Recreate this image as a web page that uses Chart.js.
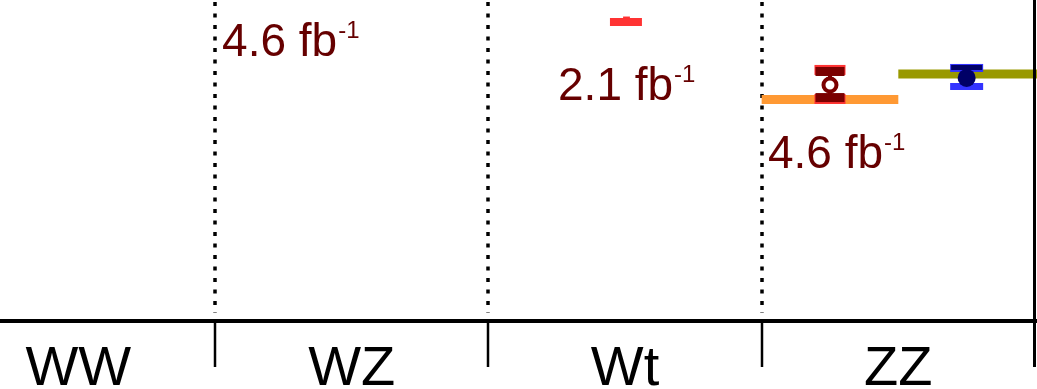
<!DOCTYPE html>
<html>
<head>
<meta charset="utf-8">
<script src="https://cdn.jsdelivr.net/npm/chart.js@4"></script>
<style>
  html, body { margin: 0; padding: 0; background: #fff; }
  canvas { display: block; }
</style>
</head>
<body>
<canvas id="xsecChart" width="1037" height="389"></canvas>
<script>
// Process categories along the x axis (one unit each)
const categories = ['WW', 'WZ', 'Wt', 'ZZ'];
const categoryCenters = [0.5, 1.5, 2.5, 3.5];
const boundaries = [1, 2, 3];

// ZZ measurements (pb): 7 TeV open marker, 8 TeV filled marker
const zzPointX = [3.25, 3.75];
const zzPointY = [6.58, 7.21];
const zzTotHigh = [8.01, 8.22];
const zzTotLow = [5.48, 6.45];
const zzStatHigh = [7.85, 8.27];
const zzStatLow = [5.58, null];

// Theory prediction bands for ZZ
const bandStart = [3.0, 3.5];
const bandEnd = [3.5, 4.1];
const bandValue = [5.44, 7.60];

// Wt measurement (only the lower edge is in view)
const wtX = [2.445, 2.562];
const wtValue = 15.0;
const wtBumpX = [2.493, 2.518];
const wtBumpValue = 15.9;

// Luminosity labels
const lumiText = ['4.6', '2.1', '4.6'];
const lumiX = [1.026, 2.255, 3.023];
const lumiY = [9.61, 5.41, 2.22];

const FONT = "'Liberation Sans', Arial, Helvetica, sans-serif";

// Function to build a horizontal segment dataset
function segment(x0, x1, y, color, width) {
  return {
    type: 'line',
    data: [{ x: x0, y: y }, { x: x1, y: y }],
    borderColor: color,
    borderWidth: width,
    borderCapStyle: 'butt',
    pointRadius: 0,
    fill: false
  };
}

// Function to draw one cap rectangle centred on a value
function drawCap(ctx, xs, ys, x, value, w, h, color) {
  if (value === null) return;
  const px = xs.getPixelForValue(x);
  const py = ys.getPixelForValue(value);
  ctx.fillStyle = color;
  ctx.fillRect(px - w / 2, py - h / 2, w, h);
}

// Plugin: error bars drawn just before their marker dataset
const errorBars = {
  id: 'errorBars',
  beforeDatasetDraw(chart, args) {
    const ds = chart.data.datasets[args.index];
    if (!ds.errors) return;
    const { ctx } = chart;
    const xs = chart.scales.x;
    const ys = chart.scales.y;
    const i = ds.errors.index;
    const x = zzPointX[i];
    ctx.save();
    ctx.strokeStyle = ds.errors.dark;
    ctx.lineWidth = 4;
    ctx.beginPath();
    ctx.moveTo(xs.getPixelForValue(x), ys.getPixelForValue(zzTotHigh[i]));
    ctx.lineTo(xs.getPixelForValue(x), ys.getPixelForValue(zzTotLow[i]));
    ctx.stroke();
    drawCap(ctx, xs, ys, x, zzTotHigh[i], ds.errors.w, ds.errors.hTop, ds.errors.light);
    drawCap(ctx, xs, ys, x, zzTotLow[i], ds.errors.w, ds.errors.hBottom, ds.errors.light);
    drawCap(ctx, xs, ys, x, zzStatHigh[i], ds.errors.w - 2, ds.errors.hStat, ds.errors.dark);
    drawCap(ctx, xs, ys, x, zzStatLow[i], ds.errors.w - 2, ds.errors.hStat, ds.errors.dark);
    ctx.restore();
  }
};

// Plugin: dotted separators, axis, ticks, labels
const frame = {
  id: 'frame',
  beforeDatasetsDraw(chart) {
    const { ctx, chartArea } = chart;
    const xs = chart.scales.x;
    ctx.save();
    ctx.strokeStyle = '#000';
    ctx.lineWidth = 3.5;
    ctx.setLineDash([4, 7.5]);
    boundaries.forEach(b => {
      const px = Math.round(xs.getPixelForValue(b));
      ctx.beginPath();
      ctx.moveTo(px, chartArea.top + 2);
      ctx.lineTo(px, chartArea.bottom - 8);
      ctx.stroke();
    });
    ctx.restore();
  },
  afterDraw(chart) {
    const { ctx, chartArea } = chart;
    const xs = chart.scales.x;
    const ys = chart.scales.y;
    const axisY = chartArea.bottom;
    ctx.save();

    // luminosity labels
    ctx.fillStyle = '#660000';
    ctx.textBaseline = 'alphabetic';
    ctx.textAlign = 'left';
    lumiText.forEach((t, i) => {
      const px = xs.getPixelForValue(lumiX[i]);
      const py = ys.getPixelForValue(lumiY[i]);
      ctx.font = '46px ' + FONT;
      const main = t + ' fb';
      ctx.fillText(main, px, py);
      const w = ctx.measureText(main).width;
      ctx.font = '24px ' + FONT;
      ctx.fillText('-1', px + w + 1, py - 18);
    });

    // x axis line
    ctx.strokeStyle = '#000';
    ctx.lineWidth = 4;
    ctx.beginPath();
    ctx.moveTo(0, axisY);
    ctx.lineTo(chart.width, axisY);
    ctx.stroke();

    // ticks below the axis
    ctx.lineWidth = 2.5;
    boundaries.forEach(b => {
      const px = Math.round(xs.getPixelForValue(b));
      ctx.beginPath();
      ctx.moveTo(px, axisY);
      ctx.lineTo(px, axisY + 46);
      ctx.stroke();
    });

    // right frame line
    const rx = Math.round(xs.getPixelForValue(4)) - 0.5;
    ctx.lineWidth = 3;
    ctx.beginPath();
    ctx.moveTo(rx, chartArea.top);
    ctx.lineTo(rx, axisY + 46);
    ctx.stroke();

    // category labels
    ctx.fillStyle = '#000';
    ctx.font = '56px ' + FONT;
    ctx.textAlign = 'center';
    categories.forEach((c, i) => {
      ctx.fillText(c, xs.getPixelForValue(categoryCenters[i]), axisY + 64);
    });
    ctx.restore();
  }
};

const datasets = [
  {
    type: 'scatter',
    data: [{ x: zzPointX[0], y: zzPointY[0] }],
    pointRadius: 6.5,
    pointBorderWidth: 4,
    pointBackgroundColor: '#ffffff',
    pointBorderColor: '#7a0000',
    errors: { index: 0, dark: '#7a0000', light: '#ff3333', w: 31, hTop: 10, hBottom: 10, hStat: 9 }
  },
  {
    type: 'scatter',
    data: [{ x: zzPointX[1], y: zzPointY[1] }],
    pointRadius: 9,
    pointBorderWidth: 0,
    pointBackgroundColor: '#000066',
    pointBorderColor: '#000066',
    errors: { index: 1, dark: '#000066', light: '#3333ff', w: 33, hTop: 8, hBottom: 7, hStat: 5 }
  },
  segment(wtBumpX[0], wtBumpX[1], wtBumpValue, '#ff3333', 2),
  segment(wtX[0], wtX[1], wtValue, '#ff3333', 8),
  segment(bandStart[0], bandEnd[0], bandValue[0], '#ff9933', 9),
  segment(bandStart[1], bandEnd[1], bandValue[1], '#999900', 9)
];

new Chart(document.getElementById('xsecChart').getContext('2d'), {
  type: 'scatter',
  data: { datasets: datasets },
  options: {
    responsive: false,
    animation: false,
    devicePixelRatio: 1,
    layout: { autoPadding: false, padding: { left: 0, right: 0, top: 0, bottom: 68 } },
    scales: {
      x: { type: 'linear', min: 0.2134, max: 4.0074, display: false },
      y: { type: 'logarithmic', min: 0.3, max: 20, display: false }
    },
    plugins: {
      legend: { display: false },
      tooltip: { enabled: false }
    }
  },
  plugins: [errorBars, frame]
});
</script>
</body>
</html>
